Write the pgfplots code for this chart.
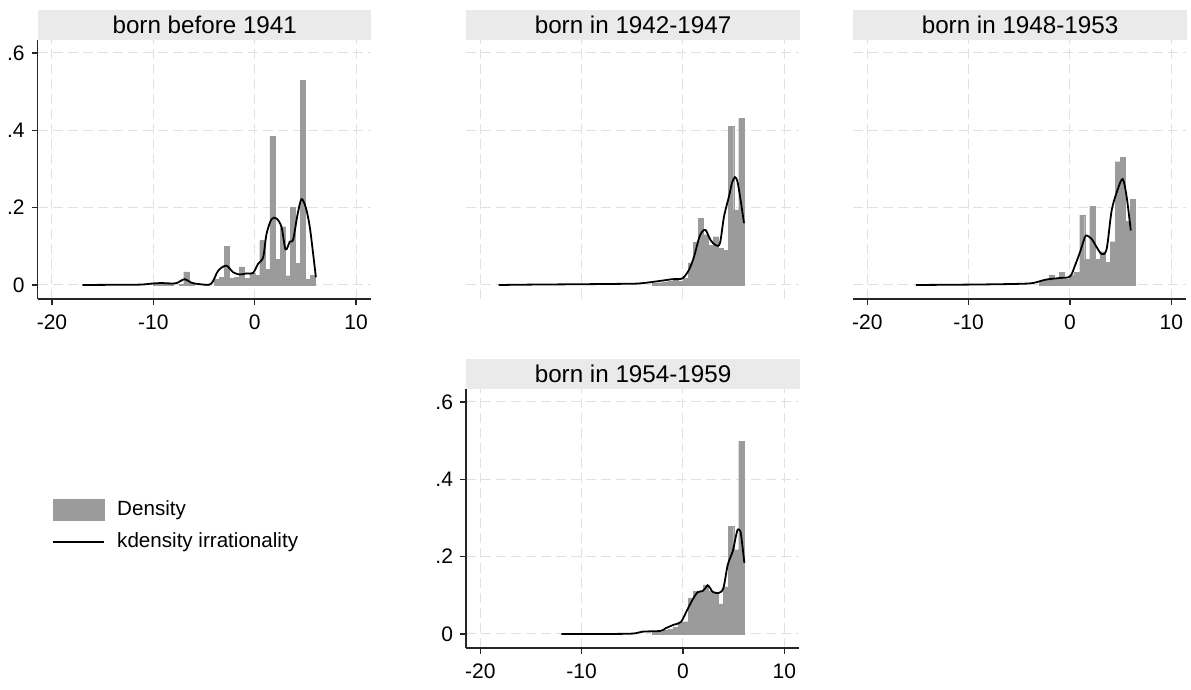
\documentclass[border=0pt]{standalone}
\usepackage{fontspec}
\setmainfont{Liberation Sans}
\usepackage{pgfplots}
\pgfplotsset{compat=1.18}
\definecolor{barcol}{RGB}{155,155,155}
\definecolor{titlebg}{RGB}{234,234,234}
\definecolor{gridc}{RGB}{225,225,225}
\pgfplotsset{
 panel/.style={
  scale only axis, width=166.65pt, height=129.5pt,
  xmin=-21.41, xmax=11.48, ymin=-0.0362, ymax=0.6336,
  xtick={-20,-10,0,10}, xticklabels={-20,-10,0,10},
  ytick={0,0.2,0.4,0.6}, yticklabels={0,.2,.4,.6},
  grid=major, major grid style={gridc, dash pattern=on 5pt off 2.5pt, line width=0.5pt},
  tick align=outside, major tick length=3pt,
  tick style={black!85, line width=0.6pt},
  axis x line*=bottom, axis y line*=left,
  axis line style={black!85, line width=0.8pt},
  ticklabel style={font=\fontsize{10.5}{12}\selectfont},
  xticklabel style={yshift=-1.5pt},
  title style={at={(0,1)}, anchor=south west, yshift=-6pt, fill=titlebg, minimum width=166.65pt, minimum height=15pt, inner sep=0pt, font=\fontsize{12.1}{14}\selectfont},
 },
 noyaxis/.style={y axis line style={draw=none}, ytick style={draw=none}, yticklabels={}},
 noxaxis/.style={x axis line style={draw=none}, xtick style={draw=none}, xticklabels={}},
 bars/.style={ybar, bar width=0.5, bar shift=0pt, fill=barcol, draw=barcol, line width=0.1pt},
 kd/.style={black, line width=0.9pt, smooth, tension=0.5},
}
\begin{document}
\begin{tikzpicture}
\useasboundingbox (0,0) rectangle (595.5pt,345pt);
% Panel 1
\begin{axis}[panel, at={(18.85pt,195.5pt)}, anchor=south west, title={born before 1941},
  legend style={at={(0.043,-0.763)}, anchor=north west, draw=none, fill=none, inner sep=0pt, font=\fontsize{10.3}{12}\selectfont, row sep=3pt, /tikz/every odd column/.append style={column sep=4pt}},
  legend cell align=left]
\addplot[bars, legend image code/.code={\fill[barcol] (0pt,-5.25pt) rectangle (25.5pt,5.25pt);}] coordinates {
(-9.75,0.004) (-9.25,0.006) (-8.75,0.004) (-8.25,0.002) (-7.25,0.002) (-6.75,0.034) (-6.25,0.004)
(-4.75,0.002) (-3.75,0.015) (-3.25,0.02) (-2.75,0.10) (-2.25,0.017) (-1.75,0.02) (-1.25,0.047)
(-0.75,0.017) (-0.25,0.03) (0.25,0.025) (0.75,0.115) (1.25,0.04) (1.75,0.385) (2.25,0.066)
(2.75,0.151) (3.25,0.024) (3.75,0.201) (4.25,0.056) (4.75,0.529) (5.25,0.015) (5.75,0.025)};
\addlegendentry{Density}
\addplot[kd, legend image code/.code={\draw[black, line width=0.9pt] (0pt,0pt) -- (25.5pt,0pt);}] coordinates {
(-17,0) (-14,0.0005) (-11.3,0.001) (-10,0.004) (-9.2,0.005) (-8.3,0.004) (-7.7,0.005) (-6.9,0.015)
(-6.25,0.006) (-5.4,0.002) (-4.3,0.003) (-3.6,0.037) (-2.8,0.05) (-2.13,0.033) (-1.47,0.027)
(-0.8,0.03) (-0.16,0.031) (0.34,0.055) (0.84,0.072) (1.17,0.132) (1.66,0.17) (2.15,0.172)
(2.65,0.15) (3.05,0.092) (3.47,0.112) (3.8,0.118) (4.23,0.182) (4.62,0.222) (5.05,0.2)
(5.44,0.15) (5.84,0.065) (6.04,0.02)};
\addlegendentry{kdensity irrationality}
\end{axis}
% Panel 2
\begin{axis}[panel, noxaxis, noyaxis, at={(233pt,195.5pt)}, anchor=south west, title={born in 1942-1947}]
\addplot[bars] coordinates {
(-2.75,0.004) (-2.25,0.006) (-1.75,0.008) (-1.25,0.01) (-0.75,0.012) (-0.25,0.01)
(0.25,0.018) (0.75,0.057) (1.25,0.11) (1.75,0.173) (2.25,0.13) (2.75,0.103) (3.25,0.125)
(3.75,0.095) (4.25,0.09) (4.75,0.411) (5.25,0.194) (5.75,0.431)};
\addplot[kd] coordinates {
(-18.2,0) (-15,0.001) (-10,0.002) (-6,0.003) (-4.3,0.004) (-2.4,0.01) (-1.05,0.015) (-0.07,0.017)
(0.59,0.039) (1.09,0.073) (1.58,0.121) (1.9,0.138) (2.24,0.142) (2.73,0.116) (3.23,0.103)
(3.65,0.108) (4.05,0.177) (4.54,0.229) (4.85,0.265) (5.13,0.279) (5.35,0.27) (5.53,0.246)
(5.8,0.2) (6.02,0.16)};
\end{axis}
% Panel 3
\begin{axis}[panel, noyaxis, at={(426.5pt,195.5pt)}, anchor=south west, title={born in 1948-1953}]
\addplot[bars] coordinates {
(-2.8,0.01) (-2.3,0.012) (-1.8,0.026) (-1.3,0.016) (-0.8,0.033) (-0.3,0.016) (0.2,0.026)
(0.7,0.033) (1.2,0.181) (1.7,0.066) (2.2,0.203) (2.7,0.066) (3.2,0.086) (3.7,0.058)
(4.2,0.112) (4.7,0.319) (5.2,0.33) (5.7,0.164) (6.2,0.222)};
\addplot[kd] coordinates {
(-15.2,0) (-10,0.001) (-7,0.002) (-4.99,0.003) (-3.67,0.005) (-2.35,0.014) (-1.04,0.018)
(0,0.022) (0.49,0.05) (0.99,0.085) (1.3,0.11) (1.58,0.128) (2.14,0.119) (2.63,0.098)
(3.13,0.08) (3.62,0.093) (4.11,0.192) (4.67,0.244) (5.2,0.274) (5.6,0.227) (6.0,0.141)};
\end{axis}
% Panel 4
\begin{axis}[panel, at={(233pt,21pt)}, anchor=south west, title={born in 1954-1959}]
\addplot[bars] coordinates {
(-2.75,0.004) (-2.25,0.006) (-1.75,0.009) (-1.25,0.012) (-0.75,0.018) (-0.25,0.03)
(0.25,0.032) (0.75,0.092) (1.25,0.11) (1.75,0.11) (2.25,0.127) (2.75,0.11) (3.25,0.106)
(3.75,0.078) (4.25,0.122) (4.75,0.279) (5.25,0.218) (5.75,0.498)};
\addplot[kd] coordinates {
(-12,0) (-8.3,0) (-5,0.001) (-4,0.006) (-2.2,0.008) (-1.7,0.015) (-0.9,0.024) (-0.2,0.031)
(0.36,0.059) (0.95,0.089) (1.45,0.108) (1.94,0.111) (2.2,0.118) (2.44,0.126) (2.7,0.118)
(2.93,0.109) (3.53,0.106) (3.99,0.119) (4.42,0.179) (4.91,0.214) (5.2,0.25) (5.4,0.27)
(5.6,0.268) (5.73,0.257) (6.06,0.184)};
\end{axis}
\end{tikzpicture}
\end{document}
